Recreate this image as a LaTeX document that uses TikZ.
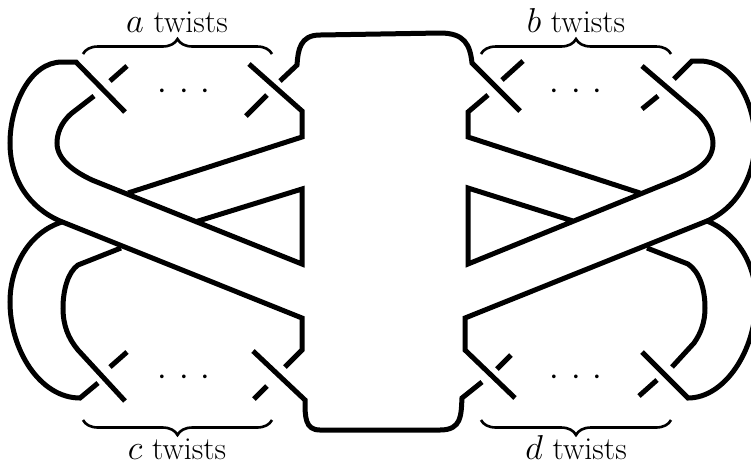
\documentclass[tikz,border=0pt]{standalone}
\usetikzlibrary{decorations.pathreplacing}
\tikzstyle{strand}=[draw, line width=2.5pt]
\tikzstyle{bracket}=[draw, line width=1.3pt, decoration={brace, amplitude=7.5pt}, decorate]
\tikzstyle{twistlabel}=[inner sep=0pt, font=\fontsize{16}{20}\selectfont]
\newcommand{\twistdots}{$\cdot\mkern6.2mu{\cdot}\mkern6.2mu{\cdot}$}

\begin{document}
\begin{tikzpicture}[x=.5pt, y=-.5pt]
\useasboundingbox (0,0) rectangle (751,463);
% labels
\node[twistlabel, anchor=base] (alabel) at (177,32) {$a$ twists};
\node[twistlabel, anchor=base] (blabel) at (576,32) {$b$ twists};
\node[twistlabel, anchor=base] (clabel) at (177,459) {$c$ twists};
\node[twistlabel, anchor=base] (dlabel) at (576,459) {$d$ twists};
\node[twistlabel] (adots) at (184,92) {\twistdots};
\node[twistlabel] (bdots) at (576,92) {\twistdots};
\node[twistlabel] (cdots) at (184,378) {\twistdots};
\node[twistlabel] (ddots) at (576,378) {\twistdots};
% braces
\path[bracket] (83,54) -- (272,54);
\path[bracket] (481,54) -- (671,54);
\path[bracket] (272,420) -- (83,420);
\path[bracket] (671,420) -- (481,420);
% left top
\path[strand] (125,112) -- (76,62) -- (62,62) .. controls (30,62) and (10,105) .. (10,143)
  .. controls (10,180) and (30,208) .. (60,221) -- (302,318) -- (302,350) -- (285,367);
\path[strand] (127,66) -- (110,81);
\path[strand] (94,96) -- (72,113) .. controls (60,123) and (57,135) .. (57,143)
  .. controls (57,160) and (75,172) .. (92,180) -- (302,264) -- (302,189) -- (195,222);
\path[strand] (128,193) -- (302,137) -- (302,111) -- (249,64);
\path[strand] (267,95) -- (246,116);
% top band
\path[strand] (280,81) -- (297,65) .. controls (298,50) and (300,35) .. (320,35)
  -- (440,33) .. controls (465,33) and (470,45) .. (472,63) -- (520,111);
% right top
\path[strand] (523,61) -- (502,80);
\path[strand] (488,95) -- (468,112) -- (468,137) -- (640,193);
\path[strand] (573,221) -- (468,188) -- (468,264) -- (660,186)
  .. controls (690,174) and (713,165) .. (713,143) .. controls (713,132) and (705,120) .. (697,113) -- (642,66);
\path[strand] (658,96) -- (642,109);
\path[strand] (674,79) -- (692,61) -- (700,61) .. controls (732,61) and (755,100) .. (755,141)
  .. controls (755,175) and (738,207) .. (707,221) -- (465,318) -- (465,350) -- (515,398);
% right bottom
\path[strand] (511,355) -- (497,369);
\path[strand] (482,382) -- (462,398) .. controls (461,415) and (462,430) .. (440,430)
  -- (320,430) .. controls (305,430) and (305,417) .. (305,400) -- (253,351);
\path[strand] (707,221) .. controls (735,232) and (756,262) .. (756,300)
  .. controls (756,350) and (725,398) .. (688,398) -- (642,352);
\path[strand] (657,380) -- (639,396);
\path[strand] (672,367) -- (694,343) .. controls (701,333) and (705,322) .. (705,308)
  .. controls (705,290) and (700,272) .. (688,264) -- (647,248);
% left bottom
\path[strand] (62,222) .. controls (30,232) and (10,265) .. (10,302)
  .. controls (10,350) and (40,398) .. (80,398) -- (98,383);
\path[strand] (127,352) -- (110,367);
\path[strand] (125,401) -- (78,350) .. controls (68,338) and (63,325) .. (63,308)
  .. controls (63,290) and (68,272) .. (78,265) -- (121,248);
\path[strand] (267,386) -- (254,399);
\end{tikzpicture}
\end{document}
